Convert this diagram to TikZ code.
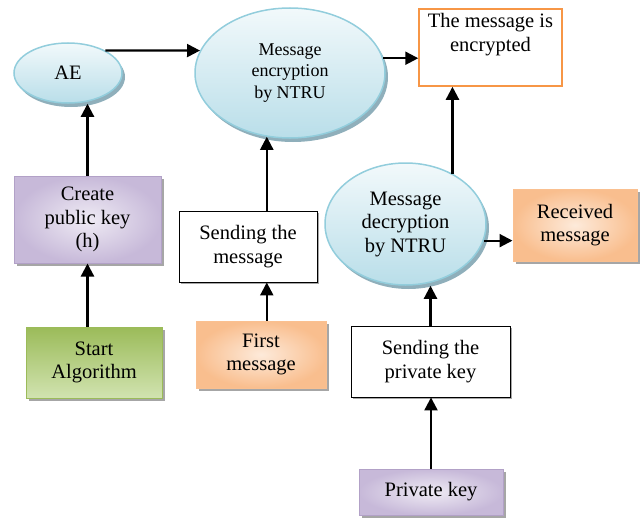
\documentclass[tikz,border=0pt]{standalone}
\usepackage{fontspec}
\setmainfont{Liberation Serif}
\usetikzlibrary{shapes.geometric,arrows.meta,shadows}
\definecolor{ellborder}{HTML}{92CDDC}
\definecolor{elltop}{HTML}{F2F9FB}
\definecolor{ellbot}{HTML}{B9DEE9}
\definecolor{ellshadow}{HTML}{8FAFBB}
\definecolor{purpin}{HTML}{EFEBF4}
\definecolor{purpout}{HTML}{C7B9D9}
\definecolor{purpborder}{HTML}{B2A1C7}
\definecolor{orin}{HTML}{FDEADA}
\definecolor{orout}{HTML}{F9BE8E}
\definecolor{orborder}{HTML}{FAC090}
\definecolor{grtop}{HTML}{9BBB59}
\definecolor{grbot}{HTML}{D1E3B0}
\definecolor{grborder}{HTML}{9BBB59}
\definecolor{encorange}{HTML}{F79646}
\definecolor{boxshadow}{HTML}{A6A6A6}
\tikzset{
  base/.style={font=\fontsize{20.5}{23.5}\selectfont, align=center, inner sep=0pt},
  oval/.style={base, ellipse, draw=ellborder, line width=1.5pt, top color=elltop, bottom color=ellbot,
    drop shadow={shadow xshift=3pt, shadow yshift=-4pt, fill=ellshadow, opacity=1}},
  purplebox/.style={base, rectangle, draw=purpborder, line width=1pt, inner color=purpin, outer color=purpout,
    drop shadow={shadow xshift=3pt, shadow yshift=-3pt, fill=boxshadow, opacity=1}},
  orangebox/.style={base, rectangle, draw=orborder, line width=1pt, inner color=orin, outer color=orout,
    drop shadow={shadow xshift=3pt, shadow yshift=-3pt, fill=boxshadow, opacity=1}},
  greenbox/.style={base, rectangle, draw=grborder, line width=1pt, top color=grtop, bottom color=grbot,
    drop shadow={shadow xshift=3pt, shadow yshift=-3pt, fill=boxshadow, opacity=1}},
  plainbox/.style={base, rectangle, draw=black, line width=0.9pt, fill=white,
    drop shadow={shadow xshift=1.5pt, shadow yshift=-1.5pt, fill=gray!70, opacity=1}},
  resultbox/.style={base, rectangle, draw=encorange, line width=1.5pt, fill=white},
  arr/.style={line width=2.2pt, -{Triangle[length=13pt,width=13pt]}}
}
\begin{document}
\begin{tikzpicture}[x=1pt,y=-1pt]
\useasboundingbox (0,0) rectangle (640,519);
\node[oval, minimum width=108pt, minimum height=60pt] (AE) at (68,73) {AE};
\node[oval, minimum width=190pt, minimum height=130pt, font=\fontsize{18}{21.5}\selectfont] (enc) at (290,73) {Message\\encryption\\by NTRU};
\node[resultbox, minimum width=143pt, minimum height=77pt] (res) at (490.5,47.5) {The message is\\encrypted\\\strut};
\node[oval, minimum width=161pt, minimum height=122pt] (dec) at (405.5,224) {Message\\decryption\\by NTRU};
\node[orangebox, minimum width=124pt, minimum height=72pt] (recv) at (575,225) {Received\\message};
\node[plainbox, minimum width=159pt, minimum height=71pt] (spk) at (430.5,361.5) {Sending the\\private key};
\node[purplebox, minimum width=144pt, minimum height=46pt] (pk) at (431,492) {Private key};
\node[purplebox, minimum width=147pt, minimum height=87pt] (create) at (87.5,219.5) {Create\\public key\\(h)};
\node[greenbox, minimum width=136pt, minimum height=71pt] (start) at (94,362.5) {Start\\Algorithm};
\node[plainbox, minimum width=138pt, minimum height=71pt] (sendmsg) at (248,246.5) {Sending the\\message};
\node[orangebox, minimum width=130pt, minimum height=67pt] (first) at (261,354.5) {First\\message};

\draw[arr] (AE.31) -- (enc.166);
\draw[arr] (enc.9) -- (enc.9 -| res.west);
\draw[arr] (dec.47) -- (dec.47 |- res.south);
\draw[arr] (dec.-12) -- (dec.-12 -| recv.west);
\draw[arr] (spk.north) -- (dec.south -| spk.north);
\draw[arr] (pk.north) -- (spk.south -| pk.north);
\draw[arr] (create.north) -- (create.north |- AE.south);
\draw[arr] (start.north -| create.south) -- (create.south);
\draw[arr] (sendmsg.north -| enc.250) -- (enc.250);
\draw[arr] (first.north -| enc.250) -- (sendmsg.south -| enc.250);
\end{tikzpicture}
\end{document}
